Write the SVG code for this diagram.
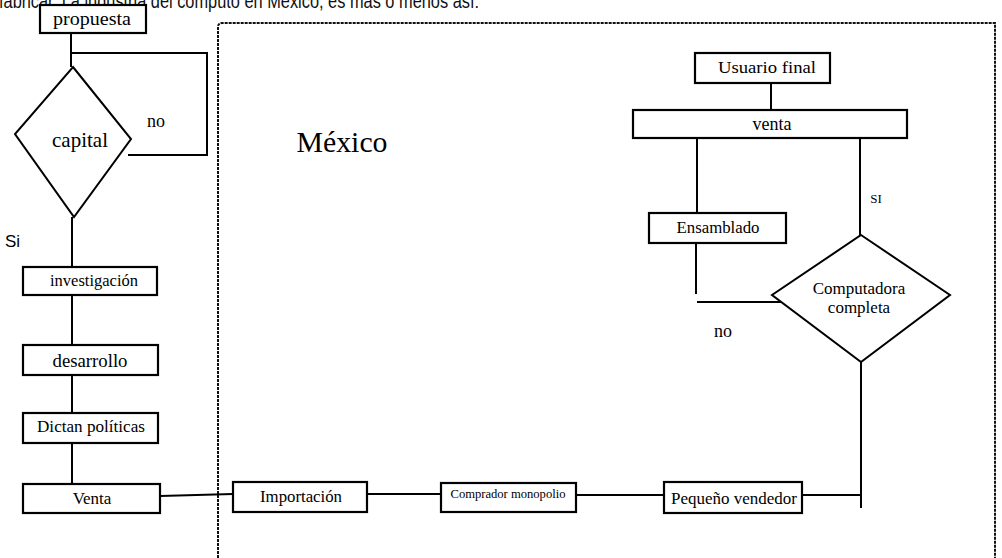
<svg xmlns="http://www.w3.org/2000/svg" width="1002" height="558" viewBox="0 0 1002 558">
<style>
.box{fill:#fff;stroke:#000;stroke-width:2.2}
.dia{fill:#fff;stroke:#000;stroke-width:2}
.t{font-family:"Liberation Serif","Times New Roman",serif;fill:#000;text-anchor:middle}
.c line,.c path{stroke:#000;stroke-width:2;fill:none}
.frame{fill:none;stroke:#111;stroke-width:2;stroke-dasharray:3 1}
</style>
<rect width="1002" height="558" fill="#fff"/>
<text x="-1" y="8" font-family="Liberation Sans, Arial, sans-serif" font-size="20" fill="#111" textLength="480" lengthAdjust="spacingAndGlyphs">fabricar. La industria del cómputo en México, es más o menos así:</text>
<path class="frame" d="M218,558 L218,27 Q218,23 222,23 L995,23 L995,558"/>
<text class="t" x="342" y="152" font-size="29" textLength="91" lengthAdjust="spacingAndGlyphs">México</text>
<g class="c" id="connectors">
<line x1="71" y1="33" x2="71" y2="67"/>
<path d="M72,53 H207 V155 H128"/>
<line x1="72" y1="217" x2="72" y2="267"/>
<line x1="72" y1="295" x2="72" y2="345"/>
<line x1="72" y1="375" x2="72" y2="413"/>
<line x1="72" y1="443" x2="72" y2="484"/>
<line x1="160" y1="496" x2="233" y2="494"/>
<line x1="367" y1="494" x2="441" y2="494"/>
<line x1="576" y1="495" x2="664" y2="495"/>
<line x1="802" y1="495" x2="861" y2="495"/>
<line x1="861" y1="362" x2="861" y2="508"/>
<line x1="771" y1="83" x2="771" y2="110"/>
<line x1="697" y1="138" x2="697" y2="213"/>
<line x1="696" y1="243" x2="696" y2="294"/>
<line x1="697" y1="302" x2="783" y2="302"/>
<line x1="860" y1="138" x2="860" y2="235"/>
</g>
<g id="propuesta"><rect class="box" x="40" y="5" width="106" height="28"/><text class="t" x="92" y="25" font-size="18" textLength="78" lengthAdjust="spacingAndGlyphs">propuesta</text></g>
<g id="capital"><polygon class="dia" points="73,67 131,139 74,217 15,134"/><text class="t" x="80" y="147" font-size="21">capital</text></g>
<g id="label-no-1"><text class="t" x="156" y="127" font-size="18">no</text></g>
<g id="label-si-1"><text x="5" y="247" font-family="Liberation Sans, Arial, sans-serif" font-size="17" fill="#000">Si</text></g>
<g id="investigacion"><rect class="box" x="23" y="267" width="134" height="28"/><text class="t" x="94" y="286" font-size="17" textLength="88" lengthAdjust="spacingAndGlyphs">investigación</text></g>
<g id="desarrollo"><rect class="box" x="23" y="345" width="135" height="30"/><text class="t" x="90" y="367" font-size="18" textLength="75" lengthAdjust="spacingAndGlyphs">desarrollo</text></g>
<g id="dictan"><rect class="box" x="23" y="413" width="135" height="30"/><text class="t" x="91" y="432" font-size="17" textLength="108" lengthAdjust="spacingAndGlyphs">Dictan políticas</text></g>
<g id="venta-left"><rect class="box" x="23" y="484" width="137" height="29"/><text class="t" x="92" y="504" font-size="17">Venta</text></g>
<g id="importacion"><rect class="box" x="233" y="482" width="134" height="30"/><text class="t" x="301" y="502" font-size="17" textLength="82" lengthAdjust="spacingAndGlyphs">Importación</text></g>
<g id="comprador"><rect class="box" x="441" y="483" width="135" height="29"/><text class="t" x="508" y="498" font-size="12.5" textLength="115" lengthAdjust="spacingAndGlyphs">Comprador monopolio</text></g>
<g id="pequeno"><rect class="box" x="664" y="482" width="138" height="31"/><text class="t" x="734" y="504" font-size="17" textLength="126" lengthAdjust="spacingAndGlyphs">Pequeño vendedor</text></g>
<g id="usuario"><rect class="box" x="695" y="53" width="135" height="30"/><text class="t" x="767" y="73" font-size="17" textLength="98" lengthAdjust="spacingAndGlyphs">Usuario final</text></g>
<g id="venta-top"><rect class="box" x="633" y="110" width="274" height="28"/><text class="t" x="772" y="130" font-size="18">venta</text></g>
<g id="ensamblado"><rect class="box" x="649" y="213" width="137" height="30"/><text class="t" x="718" y="233" font-size="17" textLength="83" lengthAdjust="spacingAndGlyphs">Ensamblado</text></g>
<g id="computadora"><polygon class="dia" points="861,235 950,295 861,362 772,295"/><text class="t" x="859" y="294" font-size="17">Computadora</text><text class="t" x="859" y="313" font-size="17">completa</text></g>
<g id="label-si-2"><text class="t" x="876" y="203" font-size="13">SI</text></g>
<g id="label-no-2"><text class="t" x="723" y="337" font-size="18">no</text></g>
</svg>
